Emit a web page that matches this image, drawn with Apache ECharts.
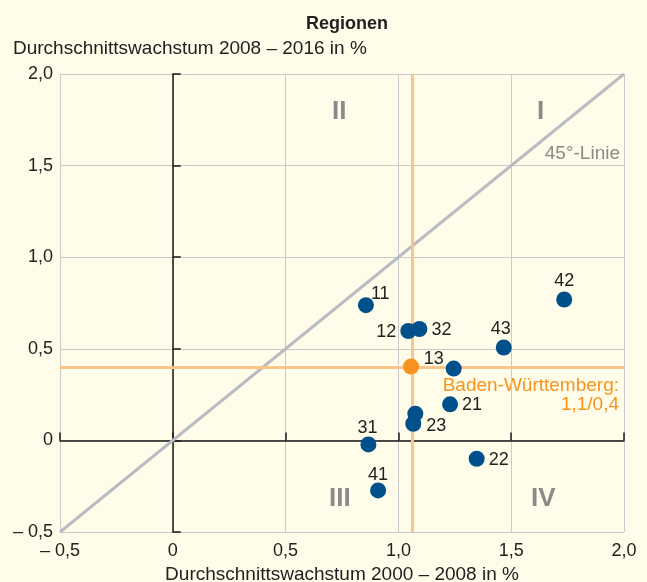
<!DOCTYPE html>
<html>
<head>
<meta charset="utf-8">
<script src="https://cdn.jsdelivr.net/npm/echarts@6/dist/echarts.min.js"></script>
<style>
html, body { margin: 0; padding: 0; background: #fffde9; }
#chart { width: 647px; height: 582px; }
</style>
</head>
<body>
<div id="chart"></div>
<script>
// Regionen: Wachstum 2000-2008 (x) gegen 2008-2016 (y)
const regionNames = ['11', '12', '32', '13', '43', '42', '21', '', '23', '31', '22', '41'];
const growth0008 = [0.856, 1.044, 1.093, 1.245, 1.467, 1.735, 1.229, 1.075, 1.066, 0.867, 1.347, 0.910];
const growth0816 = [0.738, 0.597, 0.608, 0.392, 0.507, 0.769, 0.197, 0.146, 0.091, -0.022, -0.100, -0.273];
const bwPoint = [1.056, 0.403];
const diagonal = [[-0.5, -0.5], [2, 2]];
const axisMin = -0.5, axisMax = 2, axisStep = 0.5;

// label placement per region
const labelPlace = {
    '11': { position: 'right', offset: [-8, -11] },
    '12': { position: 'left', offset: [1, 1] },
    '32': { position: 'right', offset: [-1, 1] },
    '13': { position: 'left', offset: [3, -10] },
    '43': { position: 'top', offset: [-3, 4] },
    '42': { position: 'top', offset: [0, 4] },
    '21': { position: 'right', offset: [-1, 1] },
    '23': { position: 'right', offset: [0, 2] },
    '31': { position: 'top', offset: [-1, 6] },
    '22': { position: 'right', offset: [-1, 1] },
    '41': { position: 'top', offset: [0, 7] },
};

const FONT = 'Liberation Sans';

function fmt(v) {
    if (v === 0) return '0';
    let s = Math.abs(v).toFixed(1).replace('.', ',');
    return v < 0 ? '\u2013 ' + s : s;
}

let points = regionNames.map((n, i) => {
    let p = labelPlace[n];
    return {
        value: [growth0008[i], growth0816[i]],
        name: n,
        label: p ? { show: true, position: p.position, offset: p.offset } : { show: false }
    };
});

let myChart = echarts.init(document.getElementById('chart'));

let baseAxis = {
    type: 'value',
    min: axisMin,
    max: axisMax,
    interval: axisStep,
};

let option = {
    backgroundColor: '#fffde9',
    animation: false,
    textStyle: { fontFamily: FONT },
    title: [
        {
            text: 'Regionen',
            left: 301,
            top: 10,
            textStyle: { fontFamily: FONT, fontSize: 18, fontWeight: 'bold', color: '#222' }
        },
        {
            text: 'Durchschnittswachstum 2008 \u2013 2016 in %',
            left: 8,
            top: 34,
            textStyle: { fontFamily: FONT, fontSize: 19, fontWeight: 'normal', color: '#222' }
        }
    ],
    grid: { left: 60, right: 23, top: 74, bottom: 50, outerBoundsMode: 'none', containLabel: false },
    xAxis: [
        Object.assign({}, baseAxis, {
            position: 'bottom',
            name: 'Durchschnittswachstum 2000 \u2013 2008 in %',
            nameLocation: 'middle',
            nameGap: 33,
            nameTextStyle: { fontFamily: FONT, fontSize: 19, color: '#222' },
            axisLine: { show: false, onZero: false },
            axisTick: { show: false },
            axisLabel: { formatter: fmt, fontSize: 18, color: '#222', margin: 10, fontFamily: FONT },
            splitLine: { show: true, lineStyle: { color: '#cacaca', width: 1 } }
        }),
        Object.assign({}, baseAxis, {
            position: 'bottom',
            axisLine: { show: true, onZero: true, lineStyle: { color: '#1a1a1a', width: 1.5 } },
            axisTick: { show: true, inside: true, length: 8, lineStyle: { color: '#1a1a1a', width: 1.5 } },
            axisLabel: { show: false },
            splitLine: { show: false }
        })
    ],
    yAxis: [
        Object.assign({}, baseAxis, {
            position: 'left',
            axisLine: { show: false, onZero: false },
            axisTick: { show: false },
            axisLabel: { formatter: fmt, fontSize: 18, color: '#222', margin: 7, fontFamily: FONT },
            splitLine: { show: true, lineStyle: { color: '#cacaca', width: 1 } }
        }),
        Object.assign({}, baseAxis, {
            position: 'left',
            axisLine: { show: true, onZero: true, lineStyle: { color: '#1a1a1a', width: 1.5 } },
            axisTick: { show: true, inside: true, length: 8, lineStyle: { color: '#1a1a1a', width: 1.5 } },
            axisLabel: { show: false },
            splitLine: { show: false }
        })
    ],
    graphic: [
        { type: 'text', left: 332, top: 99, style: { text: 'II', fontFamily: FONT, fontSize: 26, fontWeight: 'bold', fill: '#8a8a8a' } },
        { type: 'text', left: 537, top: 99, style: { text: 'I', fontFamily: FONT, fontSize: 26, fontWeight: 'bold', fill: '#8a8a8a' } },
        { type: 'text', left: 329, top: 486, style: { text: 'III', fontFamily: FONT, fontSize: 26, fontWeight: 'bold', fill: '#8a8a8a' } },
        { type: 'text', left: 531, top: 486, style: { text: 'IV', fontFamily: FONT, fontSize: 26, fontWeight: 'bold', fill: '#8a8a8a' } },
        { type: 'text', right: 27, top: 144, style: { text: '45\u00b0-Linie', fontFamily: FONT, fontSize: 19, fill: '#8a8a8a' } },
        { type: 'text', right: 28, top: 376, style: { text: 'Baden-W\u00fcrttemberg:', fontFamily: FONT, fontSize: 19, fill: '#f7931e' } },
        { type: 'text', right: 28, top: 395, style: { text: '1,1/0,4', fontFamily: FONT, fontSize: 19, fill: '#f7931e' } }
    ],
    series: [
        {
            type: 'line',
            data: diagonal,
            symbol: 'none',
            silent: true,
            lineStyle: { color: '#b9bcc4', width: 3 },
            z: 2,
            markLine: {
                silent: true,
                z: 3,
                symbol: 'none',
                label: { show: false },
                lineStyle: { color: '#fcc489', width: 3, type: 'solid', opacity: 1 },
                data: [{ xAxis: bwPoint[0] }, { yAxis: bwPoint[1] }]
            }
        },
        {
            type: 'scatter',
            data: [bwPoint],
            symbolSize: 16,
            itemStyle: { color: '#f7931e', opacity: 1 },
            z: 4
        },
        {
            type: 'scatter',
            data: points,
            symbolSize: 16,
            itemStyle: { color: '#00508c', opacity: 1 },
            label: {
                formatter: '{b}',
                fontSize: 18,
                color: '#222',
                distance: 5,
                fontFamily: FONT
            },
            z: 5
        }
    ]
};

myChart.setOption(option);
</script>
</body>
</html>
